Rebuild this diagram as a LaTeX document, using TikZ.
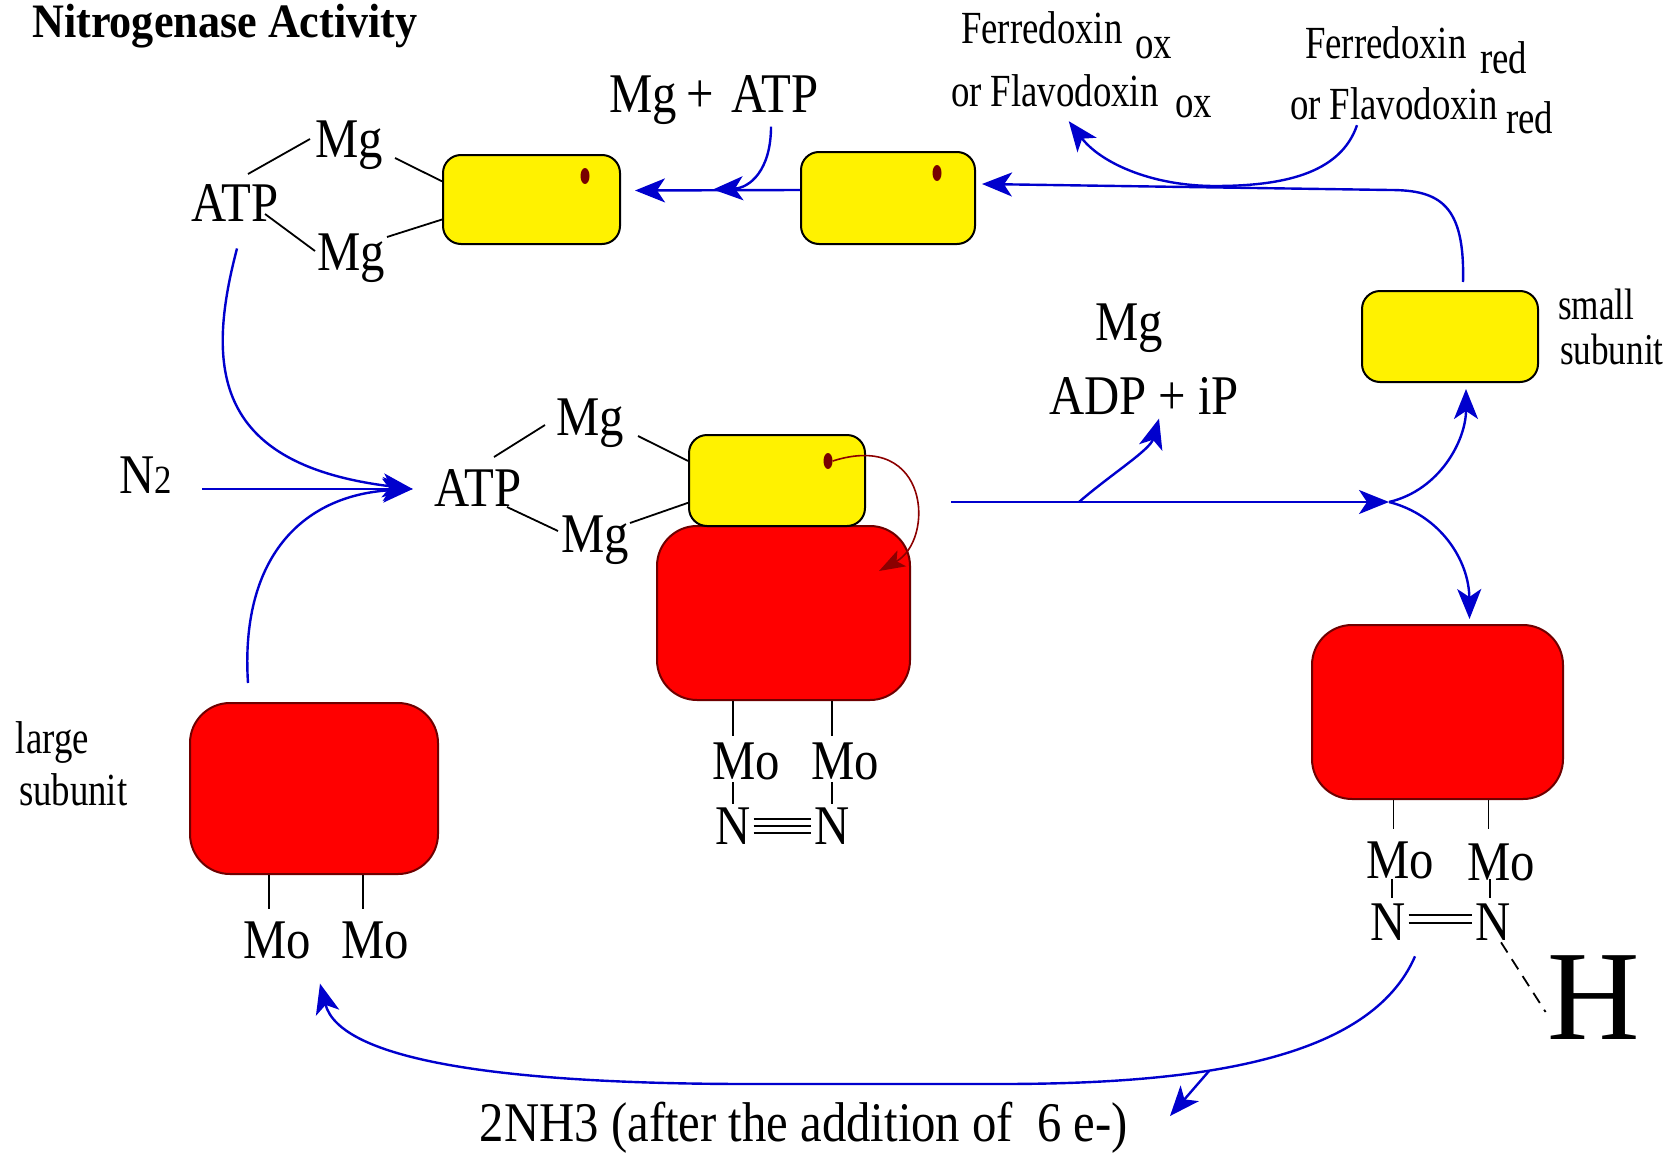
\documentclass[tikz,border=0pt]{standalone}
\usepackage{fontspec}
\setmainfont{Liberation Serif}
\newfontfamily\bigf{Liberation Serif}[FakeStretch=0.87]
\newfontfamily\smf{Liberation Serif}[FakeStretch=0.80]
\newfontfamily\titf{Liberation Serif}[FakeStretch=0.92]
\usetikzlibrary{arrows.meta,calc,shapes.geometric}
\definecolor{flowblue}{RGB}{0,0,205}
\definecolor{redline}{RGB}{110,0,0}
\definecolor{dotred}{RGB}{120,0,0}
\definecolor{arcred}{RGB}{140,0,0}
\begin{document}
\begin{tikzpicture}[x=1pt,y=-1pt,
  bigt/.style={font=\bigf\fontsize{56}{60}\selectfont, inner sep=0pt, outer sep=0pt},
  smt/.style={font=\smf\fontsize{46}{50}\selectfont, inner sep=0pt, outer sep=0pt},
  titt/.style={font=\titf\bfseries\fontsize{48}{52}\selectfont, inner sep=0pt},
  ybox/.style={draw=black, line width=2pt, fill=yellow, rounded corners=18pt, inner sep=0pt},
  rbox/.style={draw=redline, line width=2pt, fill=red, rounded corners=40pt, inner sep=0pt},
  dotn/.style={ellipse, fill=dotred, minimum width=9pt, minimum height=16pt, inner sep=0pt},
  bond/.style={line width=1.8pt, black},
  flow/.style={draw=flowblue, line width=2.4pt, -{Stealth[length=30pt,width=24pt,inset=8pt]}},
  arc/.style={draw=arcred, line width=1.6pt, -{Stealth[length=26pt,width=18pt,inset=6pt]}}
]
\fill[white] (0,0) rectangle (1675,1156);
\useasboundingbox (0,0) rectangle (1675,1156);

% title
\node[titt, anchor=west] (title) at (32,26) {Nitrogenase Activity};

% boxes
\node[ybox, minimum width=177pt, minimum height=89pt] (y1) at (531.5,199.5) {};
\node[ybox, minimum width=174pt, minimum height=92pt] (y2) at (888,198) {};
\node[ybox, minimum width=176pt, minimum height=91pt] (y3) at (1450,336.5) {};
\node[rbox, minimum width=253pt, minimum height=174pt] (r1) at (783.5,613) {};
\node[ybox, minimum width=176pt, minimum height=91pt] (y4) at (777,480.5) {};
\node[rbox, minimum width=248pt, minimum height=171pt] (r2) at (314,788.5) {};
\node[rbox, minimum width=251pt, minimum height=174pt] (r3) at (1437.5,712) {};

% dots
\node[dotn] (d1) at (585,176) {};
\node[dotn] (d2) at (937,173) {};
\node[dotn] (d4) at (828,461) {};

% texts top-left
\node[bigt] (atp1) at (235,203) {ATP};
\node[bigt] (mg1a) at (349,145) {Mg};
\node[bigt] (mg1b) at (351,258) {Mg};
\node[bigt] (mgatp) at (714,100) {Mg\,+\hspace{18pt}ATP};

% ferredoxin texts
\node[smt, anchor=west] (fox1) at (961,28) {Ferredoxin};
\node[smt, anchor=west] (fox1s) at (1135,48) {ox};
\node[smt, anchor=west] (fox2) at (951,91) {or Flavodoxin};
\node[smt, anchor=west] (fox2s) at (1175,107) {ox};
\node[smt, anchor=west] (fred1) at (1305,43) {Ferredoxin};
\node[smt, anchor=west] (fred1s) at (1480,58) {red};
\node[smt, anchor=west] (fred2) at (1290,104) {or Flavodoxin};
\node[smt, anchor=west] (fred2s) at (1506,118) {red};

% small subunit label
\node[smt, anchor=west, font=\smf\fontsize{44}{46}\selectfont] (small1) at (1558,304) {small};
\node[smt, anchor=west, font=\smf\fontsize{44}{46}\selectfont] (small2) at (1560,349) {subunit};

% Mg / ADP
\node[bigt] (mg3) at (1129,328) {Mg};
\node[bigt] (adp) at (1144,396) {ADP + iP};

% middle
\node[bigt] (n2lbl) at (146,475) {N{\fontsize{40}{44}\selectfont 2}};
\node[bigt] (atp2) at (478,488) {ATP};
\node[bigt] (mg2a) at (590,423) {Mg};
\node[bigt] (mg2b) at (595,540) {Mg};
\node[bigt] (mo1) at (746,761) {Mo};
\node[bigt] (mo2) at (845,761) {Mo};
\node[bigt] (n1) at (733,826) {N};
\node[bigt] (n2) at (832,826) {N};

% large subunit
\node[smt, anchor=west] (large1) at (16,742) {large};
\node[smt, anchor=west] (large2) at (19,790) {subunit};
\node[bigt] (mo3) at (277,940) {Mo};
\node[bigt] (mo4) at (375,940) {Mo};

% right
\node[bigt] (mo5) at (1400,860) {Mo};
\node[bigt] (mo6) at (1501,862) {Mo};
\node[bigt] (n3) at (1388,922) {N};
\node[bigt] (n4) at (1493,922) {N};
\node[font=\fontsize{128}{130}\selectfont, inner sep=0pt] (H) at (1594,998) {H};

% bottom text
\node[bigt] (nh3) at (804,1128) {2NH3 (after the addition of\ \ 6 e-)};

% bonds top-left
\draw[bond] ($(atp1)+(13,-29)$) -- ($(mg1a)+(-39,-6)$);
\draw[bond] ($(mg1a)+(46,13)$) -- ($(y1.north west)!0.3!(y1.south west)$);
\draw[bond] ($(atp1)+(30,11)$) -- ($(mg1b)+(-36,-7)$);
\draw[bond] ($(mg1b)+(36,-21)$) -- ($(y1.north west)!0.72!(y1.south west)$);
% bonds middle
\draw[bond] ($(atp2)+(16,-31)$) -- ($(mg2a)+(-45,2)$);
\draw[bond] ($(mg2a)+(48,13)$) -- ($(y4.north west)!0.29!(y4.south west)$);
\draw[bond] ($(atp2)+(29,19)$) -- ($(mg2b)+(-37,-9)$);
\draw[bond] ($(mg2b)+(35,-17)$) -- ($(y4.north west)!0.74!(y4.south west)$);
% Mo bonds middle
\draw[bond] (n1 |- r1.south) -- ++(0,35);
\draw[bond] (n2 |- r1.south) -- ++(0,35);
\draw[bond] ($(n1.north)+(0,-4)$) -- ++(0,-22);
\draw[bond] ($(n2.north)+(0,-4)$) -- ++(0,-22);
\foreach \d in {-7,0,7}
  \draw[line width=1.6pt] ($(n1.east)+(3,\d)$) -- ($(n2.west)+(-3,\d)$);
% Mo bonds large
\draw[bond] ($(r2.south)+(-45,0)$) -- ++(0,34);
\draw[bond] ($(r2.south)+(49,0)$) -- ++(0,34);
% Mo bonds right
\draw[bond] ($(r3.south)+(-44,0)$) -- ++(0,29);
\draw[bond] ($(r3.south)+(51,0)$) -- ++(0,29);
\draw[bond] ($(n3.north)+(4,-6)$) -- ++(0,-19);
\draw[bond] ($(n4.north)+(-3,-6)$) -- ++(0,-19);
\foreach \d in {-7,1}
  \draw[line width=1.6pt] ($(n3.east)+(3,\d)$) -- ($(n4.west)+(-3,\d)$);
\draw[bond, dash pattern=on 12pt off 8pt] ($(n4.south)+(8,2)$) -- ($(H.west)+(-2,14)$);

% flows
\coordinate (atpin) at ($(atp2.west)+(-22,1)$);
\coordinate (midout) at (951,502);
\coordinate (junc) at (1389,502);
\coordinate (branch1) at (1079,502);
\coordinate (nhbranch) at (1209,1071);

\draw[flow] ($(n2lbl.east)+(30,14)$) -- (atpin);
\draw[flow] ($(atp1.south)+(2,27)$) .. controls (205,370) and (215,465) .. (atpin);
\draw[flow] ($(r2.north)+(-66,-19)$) .. controls (240,560) and (300,495) .. (atpin);

\draw[flow] (midout) -- (junc);
\draw[flow] (branch1) .. controls (1110,475) and (1150,450) .. ($(adp.south)+(15,4)$);
\draw[flow] (junc) .. controls (1440,490) and (1466,440) .. ($(y3.south)+(16,6)$);
\draw[flow] (junc) .. controls (1440,515) and (1469,560) .. ($(r3.north)+(32,-5)$);

\draw[flow] ($(y3.north)+(13,-8)$) .. controls (1465,205) and (1440,190) .. (1390,190) -- ($(y2.east)+(6,-14)$);
\draw[flow] ($(fred2.south west)+(67,5)$) .. controls (1340,175) and (1280,186) .. (1215,186)
   .. controls (1150,186) and (1100,162) .. ($(fox2.south)+(14,14)$);
\draw[flow] ($(mgatp.south)+(57,2)$) .. controls (771,170) and (750,188) .. ($(y1.east)+(92,-10)$);
\draw[flow] ($(y2.west)+(0,-8)$) -- ($(y1.east)+(14,-9)$);

\draw[flow] ($(n3.south)+(27,16)$) .. controls (1370,1060) and (1200,1084) .. (1000,1084)
   -- (750,1084) .. controls (500,1084) and (340,1060) .. ($(mo3.south)+(43,25)$);
\draw[flow] (nhbranch) -- ($(nh3.east)+(42,-12)$);

% dark red arc
\draw[arc] (d4.east) .. controls (930,430) and (935,540) .. ($(r1.north east)+(-32,46)$);
\end{tikzpicture}
\end{document}
